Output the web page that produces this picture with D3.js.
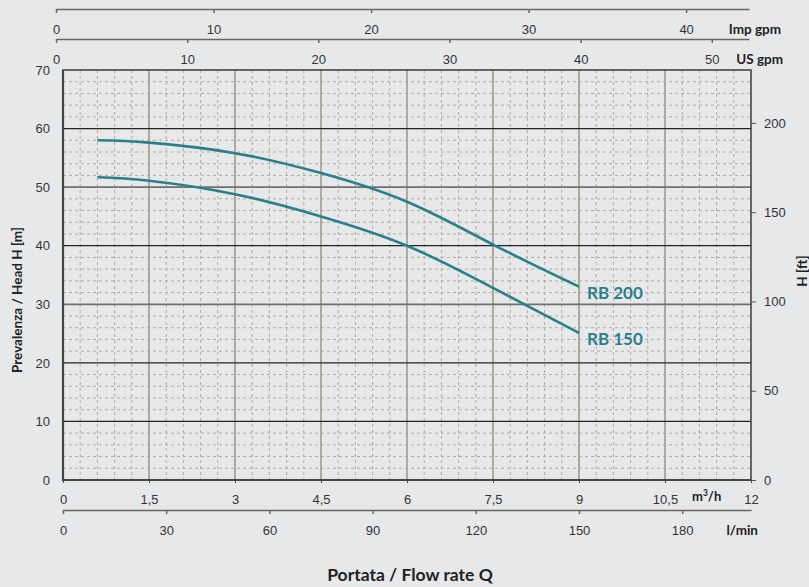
<!DOCTYPE html>
<html>
<head>
<meta charset="utf-8">
<script src="https://cdn.jsdelivr.net/npm/d3@7"></script>
<style>
  body { margin: 0; background: #e7e8ea; }
  svg { display: block; font-family: Lato, "Noto Sans", sans-serif; }
  .axis text { font-size: 13px; fill: #333; }
  .bold { font-weight: bold; fill: #222; }
</style>
</head>
<body>
<div id="app"></div>
<script>
// flow in m3/h, head in m
const flow = [0.6, 1.5, 3, 4.5, 6, 7.5, 9]
const headRB200 = [58.0, 57.6, 55.8, 52.4, 47.5, 40.2, 33.0]
const headRB150 = [51.7, 51.1, 48.8, 45.0, 40.0, 32.8, 25.1]
const seriesNames = ["RB 200", "RB 150"]

const m3hTicks = [0, 1.5, 3, 4.5, 6, 7.5, 9, 10.5, 12]
const lminTicks = [0, 30, 60, 90, 120, 150, 180]
const impTicks = [0, 10, 20, 30, 40]
const usTicks = [0, 10, 20, 30, 40, 50]
const headTicks = [0, 10, 20, 30, 40, 50, 60, 70]
const ftTicks = [0, 50, 100, 150, 200]

const W = 809, H = 587
const pLeft = 63, pRight = 751, pTop = 70, pBottom = 480
const teal = "#2b7f8a"

const svg = d3.select("#app").append("svg")
  .attr("width", W)
  .attr("height", H)

const fx = d3.scaleLinear().domain([0, 12]).range([pLeft, pRight])
const fy = d3.scaleLinear().domain([0, 70]).range([pBottom, pTop])
const fyFt = d3.scaleLinear().domain([0, 70 / 0.3048]).range([pBottom, pTop])
const fLmin = d3.scaleLinear().domain([0, 200]).range([pLeft, pRight])
// top scales sit a few px left of the plot in the original
const fImp = d3.scaleLinear().domain([0, 12 * 3.666]).range([56, 749])
const fUs = d3.scaleLinear().domain([0, 12 * 4.403]).range([56, 749])

const comma = d => String(d).replace(".", ",")

// minor grid
const grid = svg.append("g")
const minorX = d3.range(0, 12.001, 0.3).filter(v => Math.abs(v / 1.5 - Math.round(v / 1.5)) > 1e-6)
const minorY = d3.range(0, 70.001, 2).filter(v => v % 10 !== 0)
grid.selectAll(".mx").data(minorX).join("line")
  .attr("x1", d => fx(d)).attr("x2", d => fx(d))
  .attr("y1", pTop).attr("y2", pBottom)
  .attr("stroke", "#b3ab98").attr("stroke-width", 1).attr("stroke-dasharray", "3,3")
grid.selectAll(".my").data(minorY).join("line")
  .attr("x1", pLeft).attr("x2", pRight)
  .attr("y1", d => fy(d)).attr("y2", d => fy(d))
  .attr("stroke", "#b3ab98").attr("stroke-width", 1).attr("stroke-dasharray", "3,3")

// major grid
grid.selectAll(".vx").data(m3hTicks.slice(1, -1)).join("line")
  .attr("x1", d => fx(d)).attr("x2", d => fx(d))
  .attr("y1", pTop).attr("y2", pBottom)
  .attr("stroke", "#a7a394").attr("stroke-width", 1.8)
grid.selectAll(".hy").data(headTicks.slice(1, -1)).join("line")
  .attr("x1", pLeft).attr("x2", pRight)
  .attr("y1", d => fy(d)).attr("y2", d => fy(d))
  .attr("stroke", d => (d === 50 || d === 30) ? "#6f6f6f" : "#222")
  .attr("stroke-width", d => (d === 50 || d === 30) ? 1.8 : 1.3)

// frame
svg.append("rect")
  .attr("x", pLeft).attr("y", pTop)
  .attr("width", pRight - pLeft).attr("height", pBottom - pTop)
  .attr("fill", "none").attr("stroke", "#3a3a3a").attr("stroke-width", 1.5)
svg.append("path")
  .attr("d", `M${pLeft},${pTop}V${pBottom}H${pRight}`)
  .attr("fill", "none").attr("stroke", "#444").attr("stroke-width", 2.2)

// left axis
svg.append("g").attr("class", "axis")
  .attr("transform", `translate(${pLeft},0)`)
  .call(d3.axisLeft(fy).tickValues(headTicks).tickSize(0).tickPadding(13))
  .call(g => g.select(".domain").remove())

// right axis (ft)
svg.append("g").attr("class", "axis")
  .attr("transform", `translate(${pRight},0)`)
  .call(d3.axisRight(fyFt).tickValues(ftTicks).tickSize(5).tickPadding(8))
  .call(g => g.select(".domain").remove())
  .call(g => g.selectAll("line").attr("stroke", "#555"))

// bottom m3/h axis
svg.append("g").attr("class", "axis")
  .attr("transform", `translate(0,${pBottom})`)
  .call(d3.axisBottom(fx).tickValues(m3hTicks).tickFormat(comma).tickSize(3).tickPadding(12))
  .call(g => g.select(".domain").remove())
  .call(g => g.selectAll("line").attr("stroke", "#444"))

// l/min axis
svg.append("g").attr("class", "axis")
  .attr("transform", "translate(0,510)")
  .call(d3.axisBottom(fLmin).tickValues(lminTicks).tickSizeInner(4).tickSizeOuter(0).tickPadding(12))
  .call(g => g.selectAll("path, line").attr("stroke", "#666").attr("stroke-width", 1.5))

// Imp gpm axis
svg.append("g").attr("class", "axis")
  .attr("transform", "translate(0,9)")
  .call(d3.axisBottom(fImp).tickValues(impTicks).tickSizeInner(4).tickSizeOuter(0).tickPadding(12))
  .call(g => g.selectAll("path, line").attr("stroke", "#666").attr("stroke-width", 1.5))

// US gpm axis
svg.append("g").attr("class", "axis")
  .attr("transform", "translate(0,39)")
  .call(d3.axisBottom(fUs).tickValues(usTicks).tickSizeInner(4).tickSizeOuter(0).tickPadding(12))
  .call(g => g.selectAll("path, line").attr("stroke", "#666").attr("stroke-width", 1.5))

// unit labels
const unit = (x, y, t, anchor = "start") => svg.append("text")
  .attr("class", "bold").attr("x", x).attr("y", y)
  .attr("font-size", 13.5).attr("text-anchor", anchor).text(t)
unit(781, 34, "Imp gpm", "end")
unit(783, 64, "US gpm", "end")
unit(758, 535, "l/min", "end")
const m3 = svg.append("text").attr("class", "bold")
  .attr("x", 692).attr("y", 501).attr("font-size", 13)
m3.append("tspan").text("m")
m3.append("tspan").attr("font-size", 8.5).attr("dy", -5).text("3")
m3.append("tspan").attr("dy", 5).text("/h")

svg.append("text").attr("class", "bold")
  .attr("transform", "translate(22,300) rotate(-90)")
  .attr("text-anchor", "middle").attr("font-size", 13.5)
  .text("Prevalenza / Head H [m]")
svg.append("text").attr("class", "bold")
  .attr("transform", "translate(807,271) rotate(-90)")
  .attr("text-anchor", "middle").attr("font-size", 13.5)
  .text("H [ft]")
svg.append("text").attr("class", "bold")
  .attr("x", 410).attr("y", 581)
  .attr("text-anchor", "middle").attr("font-size", 17.5)
  .text("Portata / Flow rate Q")

// curves
const series = [headRB200, headRB150].map((h, i) => ({
  name: seriesNames[i],
  pts: flow.map((q, j) => [q, h[j]])
}))
const line = d3.line()
  .x(d => fx(d[0]))
  .y(d => fy(d[1]))
  .curve(d3.curveNatural)

svg.append("g").selectAll("path").data(series).join("path")
  .attr("d", d => line(d.pts))
  .attr("fill", "none")
  .attr("stroke", teal)
  .attr("stroke-width", 2.6)

svg.append("g").selectAll("text").data(series).join("text")
  .attr("x", d => fx(d.pts[d.pts.length - 1][0]) + 8)
  .attr("y", d => fy(d.pts[d.pts.length - 1][1]) + 12)
  .attr("fill", teal)
  .attr("font-weight", "bold")
  .attr("font-size", 17)
  .text(d => d.name)
</script>
</body>
</html>
